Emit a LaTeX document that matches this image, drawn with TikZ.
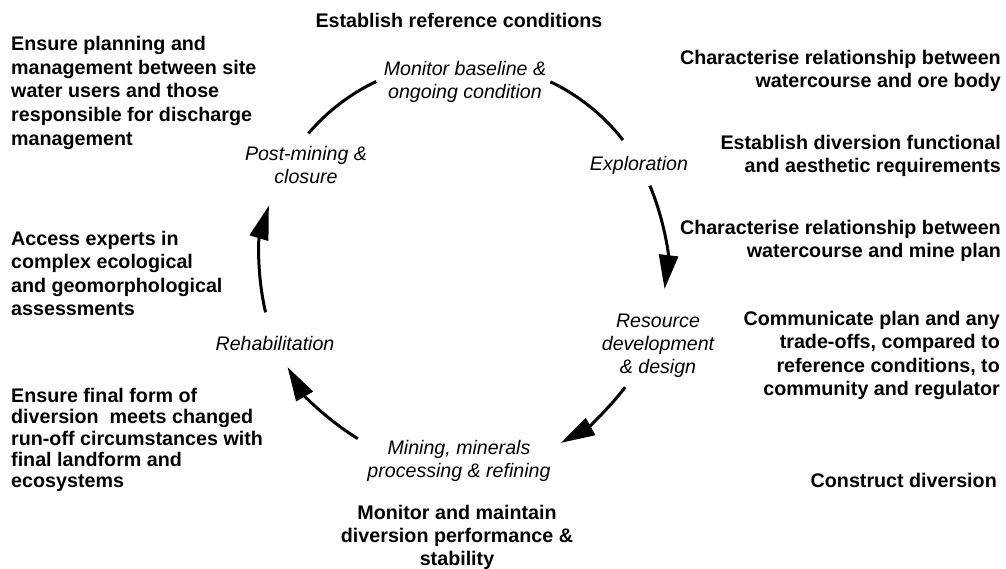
\documentclass[tikz,border=0pt]{standalone}
\usepackage{fontspec}
\setmainfont{Liberation Sans}
\usetikzlibrary{arrows.meta}
\begin{document}
\begin{tikzpicture}[x=1pt,y=1pt,
  note/.style={inner sep=0pt, font=\fontsize{19.7}{23.3}\selectfont\bfseries},
  stage/.style={inner sep=0pt, align=center, anchor=north, font=\fontsize{19.6}{23.5}\selectfont\itshape},
  ring/.style={line width=3pt},
  ringarrow/.style={ring, -{Triangle[length=34pt,width=19pt]}}]

\fill[white] (0,0) rectangle (1006,568);
\useasboundingbox (0,0) rectangle (1006,568);

% life-cycle stages
\node[stage] (monitor) at (465,507) {Monitor baseline \&\\ongoing condition};
\node[stage] (post) at (306,422) {Post-mining \&\\closure};
\node[stage] (explore) at (639,412) {Exploration};
\node[stage, font=\fontsize{19.6}{23}\selectfont\itshape] (resource) at (658,254) {Resource\\development\\\& design};
\node[stage] (rehab) at (275,232) {Rehabilitation};
\node[stage, font=\fontsize{19.6}{23}\selectfont\itshape] (mining) at (459,128) {Mining, minerals\\processing \& refining};

% actions around the cycle
\node[note, anchor=north, align=center] (refcond) at (459,555) {Establish reference conditions};
\node[note, anchor=north west, align=left, font=\fontsize{19.7}{23.7}\selectfont\bfseries] (planning) at (11,532)
  {Ensure planning and\\management between site\\water users and those\\responsible for discharge\\management};
\node[note, anchor=north west, align=left] (experts) at (11,337)
  {Access experts in\\complex ecological\\and geomorphological\\assessments};
\node[note, anchor=north west, align=left, font=\fontsize{19.7}{21.3}\selectfont\bfseries] (finalform) at (11,180)
  {Ensure final form of\\diversion~ meets changed\\run-off circumstances with\\final landform and\\ecosystems};
\node[note, anchor=north east, align=right, font=\fontsize{19.7}{23}\selectfont\bfseries] (orebody) at (1001,518)
  {Characterise relationship between\\watercourse and ore body};
\node[note, anchor=north east, align=right, font=\fontsize{19.7}{23}\selectfont\bfseries] (requirements) at (1001,433)
  {Establish diversion functional\\and aesthetic requirements};
\node[note, anchor=north east, align=right, font=\fontsize{19.7}{23}\selectfont\bfseries] (mineplan) at (1001,348)
  {Characterise relationship between\\watercourse and mine plan};
\node[note, anchor=north east, align=right] (communicate) at (1000,257)
  {Communicate plan and any\\trade-offs, compared to\\reference conditions, to\\community and regulator};
\node[note, anchor=north east] (construct) at (997,95) {Construct diversion};
\node[note, anchor=north, align=center, font=\fontsize{19.7}{23}\selectfont\bfseries] (maintain) at (457,63)
  {Monitor and maintain\\diversion performance \&\\stability};

% cycle arcs around a common hub
\coordinate (hub) at (463,303);
\draw[ring] (hub) ++(139.6:203) arc[start angle=139.6, end angle=115.3, radius=203];
\draw[ring] (hub) ++(64.5:203) arc[start angle=64.5, end angle=38, radius=203];
\draw[ringarrow] (hub) ++(23:203) arc[start angle=23, end angle=-6.8, radius=203];
\draw[ringarrow] (hub) ++(-37:203) arc[start angle=-37, end angle=-61.2, radius=203];
\draw[ringarrow] (hub) ++(-121.2:203) arc[start angle=-121.2, end angle=-149.8, radius=203];
\draw[ringarrow] (hub) ++(193.5:203) arc[start angle=193.5, end angle=163, radius=203];
\end{tikzpicture}
\end{document}
